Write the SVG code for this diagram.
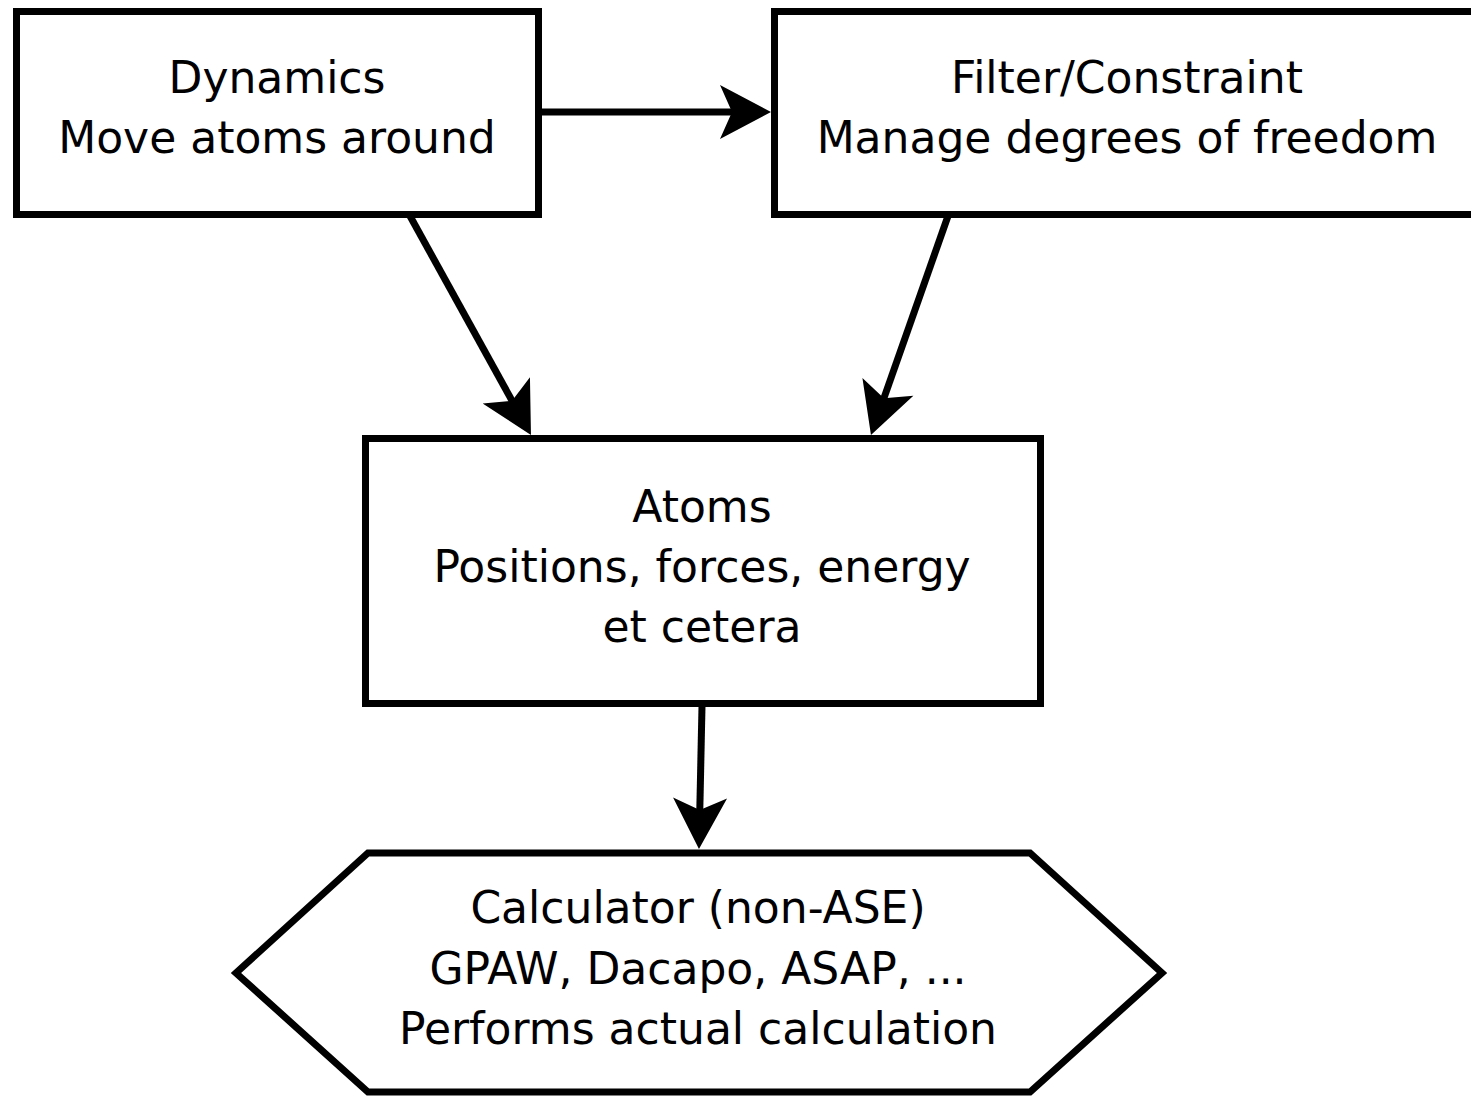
<svg xmlns="http://www.w3.org/2000/svg" width="1471" height="1096" viewBox="0 0 1471 1096">
<style>
.box{fill:#fff;stroke:#000;stroke-width:7}
.t{font-family:"DejaVu Sans",sans-serif;font-size:44px;text-anchor:middle;fill:#000}
.c{stroke:#000;stroke-width:7;fill:none;marker-end:url(#ah)}
</style>
<defs>
<marker id="ah" markerUnits="userSpaceOnUse" orient="auto" refX="0" refY="0" markerWidth="120" markerHeight="120" viewBox="-60 -60 120 120" overflow="visible">
<path d="M20,0 L-31,-27 L-19,0 L-31,27 Z" fill="#000"/>
</marker>
</defs>
<rect width="1471" height="1096" fill="#fff"/>
<g id="dynamics">
<rect class="box" x="16.5" y="11.5" width="522" height="203"/>
<text class="t" x="277" y="93">Dynamics</text>
<text class="t" x="277" y="153">Move atoms around</text>
</g>
<g id="filter">
<rect class="box" x="774.5" y="11.5" width="720" height="203"/>
<text class="t" x="1127" y="93">Filter/Constraint</text>
<text class="t" x="1127" y="153">Manage degrees of freedom</text>
</g>
<g id="atoms">
<rect class="box" x="365.5" y="438.5" width="675" height="265"/>
<text class="t" x="702" y="522">Atoms</text>
<text class="t" x="702" y="582">Positions, forces, energy</text>
<text class="t" x="702" y="642">et cetera</text>
</g>
<g id="calculator">
<polygon class="box" points="368,853 1030,853 1162,973 1030,1092 368,1092 236,973"/>
<text class="t" x="698" y="923">Calculator (non-ASE)</text>
<text class="t" x="698" y="984">GPAW, Dacapo, ASAP, ...</text>
<text class="t" x="698" y="1044">Performs actual calculation</text>
</g>
<g id="connectors">
<path class="c" d="M540,112 L751,112"/>
<path class="c" d="M410,216 L521.3,417.5"/>
<path class="c" d="M948,216 L877.6,416.1"/>
<path class="c" d="M702,706 L699.4,829"/>
</g>
</svg>
